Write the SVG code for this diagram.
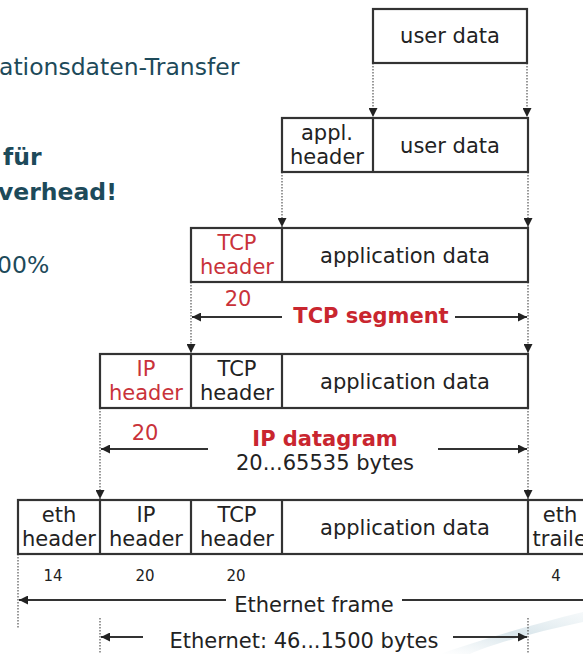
<svg xmlns="http://www.w3.org/2000/svg" width="583" height="654" viewBox="0 0 583 654">
  <style>
    .box { fill: #fff; stroke: #333; stroke-width: 2.2; }
    .div { stroke: #333; stroke-width: 2.2; }
    .t { font-family: "DejaVu Sans", Verdana, sans-serif; font-size: 21px; fill: #222; text-anchor: middle; }
    .red { fill: #c9323a; }
    .lbl { font-family: "DejaVu Sans", Verdana, sans-serif; font-size: 21px; font-weight: bold; fill: #c9262f; text-anchor: middle; }
    .num { font-family: "DejaVu Sans", Verdana, sans-serif; font-size: 15px; fill: #222; text-anchor: middle; }
    .side { font-family: "DejaVu Sans", Verdana, sans-serif; font-size: 23.5px; fill: #1d4a5a; }
    .dot { stroke: #555; stroke-width: 1.2; stroke-dasharray: 1.5 1.5; fill: none; }
    .arr { stroke: #333; stroke-width: 2; fill: none; }
  </style>
  <defs>
    <marker id="ah" viewBox="0 0 10 10" refX="10" refY="5" markerWidth="9" markerHeight="9" markerUnits="userSpaceOnUse" orient="auto">
      <path d="M0,0 L10,5 L0,10 z" fill="#222"/>
    </marker>
    <linearGradient id="sw" x1="0" y1="1" x2="1" y2="0">
      <stop offset="0" stop-color="#c9dbe3" stop-opacity="0"/>
      <stop offset="0.5" stop-color="#b9d0da" stop-opacity="0.55"/>
      <stop offset="1" stop-color="#cfe0e7" stop-opacity="0.2"/>
    </linearGradient>
  </defs>
  <rect width="583" height="654" fill="#fff"/>

  <!-- decorative swoosh -->
  <path d="M440,654 C480,640 530,625 583,612 L583,622 C535,632 490,645 470,654 z" fill="url(#sw)"/>

  <!-- side text -->
  <g id="sidetext">
    <text class="side" x="-1" y="75">ationsdaten-Transfer</text>
    <text class="side" x="3" y="165" font-weight="bold" font-size="22.5px">für</text>
    <text class="side" x="-2" y="200" font-weight="bold" font-size="22.5px">verhead!</text>
    <text class="side" x="-3" y="273">00%</text>
  </g>

  <!-- connectors -->
  <g id="connectors">
    <line class="dot" x1="373" y1="63" x2="373" y2="117" marker-end="url(#ah)"/>
    <line class="dot" x1="527" y1="63" x2="527" y2="117" marker-end="url(#ah)"/>
    <line class="dot" x1="282" y1="172" x2="282" y2="227" marker-end="url(#ah)"/>
    <line class="dot" x1="528" y1="172" x2="528" y2="227" marker-end="url(#ah)"/>
    <line class="dot" x1="191" y1="282" x2="191" y2="353" marker-end="url(#ah)"/>
    <line class="dot" x1="528" y1="282" x2="528" y2="353" marker-end="url(#ah)"/>
    <line class="dot" x1="100" y1="408" x2="100" y2="499" marker-end="url(#ah)"/>
    <line class="dot" x1="528" y1="408" x2="528" y2="499" marker-end="url(#ah)"/>
    <line class="dot" x1="18" y1="554" x2="18" y2="628"/>
    <line class="dot" x1="100" y1="618" x2="100" y2="654"/>
    <line class="dot" x1="528" y1="618" x2="528" y2="654"/>

    <!-- TCP segment span -->
    <line class="arr" x1="282" y1="317" x2="192" y2="317" marker-end="url(#ah)"/>
    <line class="arr" x1="455" y1="317" x2="527" y2="317" marker-end="url(#ah)"/>
    <!-- IP datagram span -->
    <line class="arr" x1="208" y1="449" x2="101" y2="449" marker-end="url(#ah)"/>
    <line class="arr" x1="438" y1="449" x2="527" y2="449" marker-end="url(#ah)"/>
    <!-- Ethernet frame span -->
    <line class="arr" x1="226" y1="600" x2="19" y2="600" marker-end="url(#ah)"/>
    <line class="arr" x1="402" y1="600" x2="592" y2="600" marker-end="url(#ah)"/>
    <!-- Ethernet payload span -->
    <line class="arr" x1="143" y1="637" x2="101" y2="637" marker-end="url(#ah)"/>
    <line class="arr" x1="453" y1="637" x2="527" y2="637" marker-end="url(#ah)"/>
  </g>

  <!-- application layer: user data -->
  <g id="userdata">
    <rect class="box" x="373" y="9" width="154" height="54"/>
    <text class="t" x="450" y="43">user data</text>
  </g>

  <!-- application message -->
  <g id="appmsg">
    <rect class="box" x="282" y="118" width="246" height="54"/>
    <line class="div" x1="373" y1="118" x2="373" y2="172"/>
    <text class="t" x="327" y="140">appl.</text>
    <text class="t" x="327" y="164">header</text>
    <text class="t" x="450" y="153">user data</text>
  </g>

  <!-- TCP segment -->
  <g id="tcpseg">
    <rect class="box" x="191" y="228" width="337" height="54"/>
    <line class="div" x1="282" y1="228" x2="282" y2="282"/>
    <text class="t red" x="237" y="250">TCP</text>
    <text class="t red" x="237" y="274">header</text>
    <text class="t" x="405" y="263">application data</text>
    <text class="t red" x="238" y="306">20</text>
    <text class="lbl" x="371" y="323">TCP segment</text>
  </g>

  <!-- IP datagram -->
  <g id="ipdgram">
    <rect class="box" x="100" y="354" width="428" height="54"/>
    <line class="div" x1="191" y1="354" x2="191" y2="408"/>
    <line class="div" x1="282" y1="354" x2="282" y2="408"/>
    <text class="t red" x="146" y="376">IP</text>
    <text class="t red" x="146" y="400">header</text>
    <text class="t" x="237" y="376">TCP</text>
    <text class="t" x="237" y="400">header</text>
    <text class="t" x="405" y="389">application data</text>
    <text class="t red" x="145" y="440">20</text>
    <text class="lbl" x="325" y="446">IP datagram</text>
    <text class="t" x="325" y="470">20...65535 bytes</text>
  </g>

  <!-- Ethernet frame -->
  <g id="ethframe">
    <rect class="box" x="18" y="500" width="600" height="54"/>
    <line class="div" x1="100" y1="500" x2="100" y2="554"/>
    <line class="div" x1="191" y1="500" x2="191" y2="554"/>
    <line class="div" x1="282" y1="500" x2="282" y2="554"/>
    <line class="div" x1="528" y1="500" x2="528" y2="554"/>
    <text class="t" x="59" y="522">eth</text>
    <text class="t" x="59" y="546">header</text>
    <text class="t" x="146" y="522">IP</text>
    <text class="t" x="146" y="546">header</text>
    <text class="t" x="237" y="522">TCP</text>
    <text class="t" x="237" y="546">header</text>
    <text class="t" x="405" y="535">application data</text>
    <text class="t" x="560" y="522">eth</text>
    <text class="t" x="564" y="546">trailer</text>
    <text class="num" x="53" y="581">14</text>
    <text class="num" x="145" y="581">20</text>
    <text class="num" x="236" y="581">20</text>
    <text class="num" x="556" y="581">4</text>
    <text class="t" x="314" y="612">Ethernet frame</text>
    <text class="t" x="304" y="648">Ethernet: 46...1500 bytes</text>
  </g>
</svg>
